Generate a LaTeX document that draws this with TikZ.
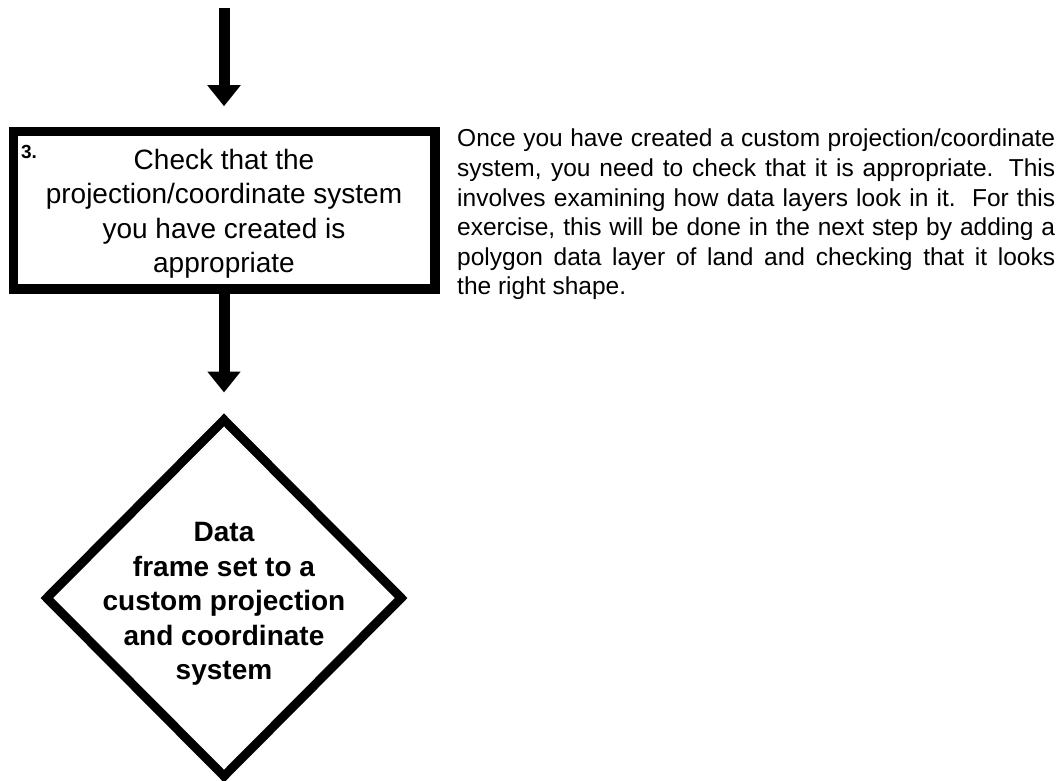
\documentclass[tikz,border=0pt]{standalone}
\usepackage{fontspec}
\setmainfont{Liberation Sans}
\usetikzlibrary{arrows.meta,shapes.geometric}
\tikzset{
  flowarrow/.style={line width=11pt,-{Triangle[width=32pt,length=21pt]}},
  stepbox/.style={draw,line width=9.5pt,rectangle,inner sep=0pt,minimum width=421.5pt,minimum height=157.5pt},
  decision/.style={draw,line width=9pt,diamond,inner sep=0pt,minimum width=358pt,minimum height=360pt},
  boxtext/.style={align=center,inner sep=0pt,font=\fontsize{28}{34.5}\selectfont},
  dectext/.style={align=center,inner sep=0pt,font=\fontsize{28}{34.5}\selectfont\bfseries},
  notetext/.style={align=justify,text width=598pt,inner sep=0pt,font=\fontsize{24.5}{29.6}\selectfont},
}
\begin{document}
\begin{tikzpicture}[x=1pt,y=1pt]
\useasboundingbox (0,0) rectangle (1059,780);
\coordinate (start) at (224,772);
\node[stepbox] (box) at (224,569.5) {};
\node[boxtext] (boxlabel) at (224,566) {Check that the\\projection/coordinate system\\you have created is\\appropriate};
\node[inner sep=0pt,font=\fontsize{19}{21}\selectfont\bfseries] (num) at (29,628) {3.};
\node[decision] (dec) at (224,182) {};
\node[dectext] (declabel) at (224,176) {Data\\frame set to a\\custom projection\\and coordinate\\system};
\node[notetext,anchor=base west] (note) at (457,633) {Once you have created a custom projection/coordinate\linebreak
system, you need to check that it is appropriate. This\linebreak
involves examining how data layers look in it.\ \ For this\linebreak
exercise, this will be done in the next step by adding a\linebreak
polygon data layer of land and checking that it looks\linebreak
the right shape.};
\draw[flowarrow,shorten >=20.75pt] (start) -- (box.north);
\draw[flowarrow,shorten >=21pt] (box.south) -- (dec.north);
\end{tikzpicture}
\end{document}
